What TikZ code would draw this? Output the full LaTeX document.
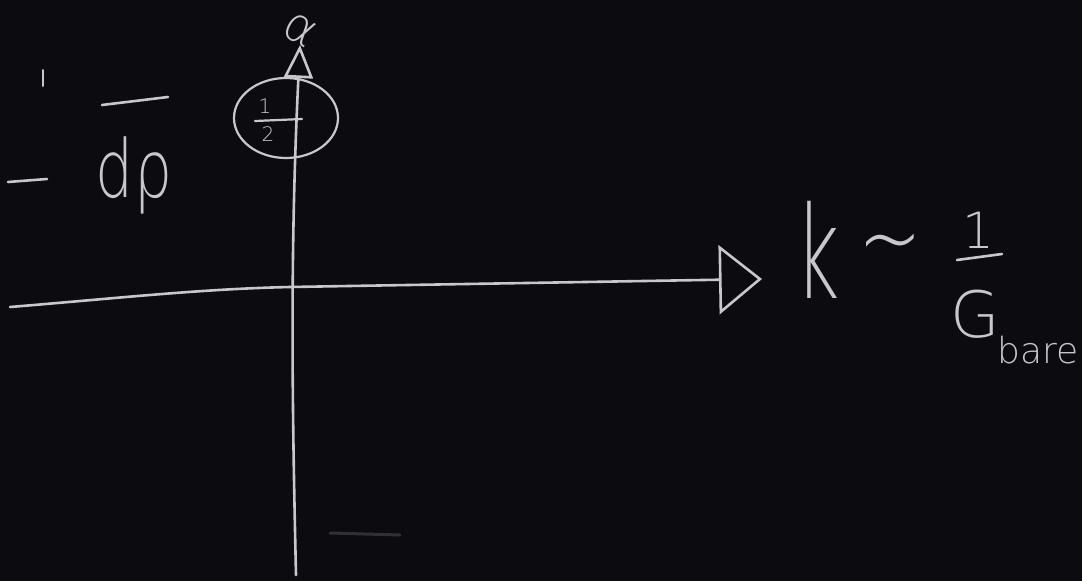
\documentclass[tikz,border=0pt]{standalone}
\usepackage{fontspec}
\newfontfamily\chalk{DejaVu Sans ExtraLight}
\usetikzlibrary{arrows.meta}
\definecolor{board}{RGB}{12,12,16}
\definecolor{chalkc}{RGB}{200,200,204}
\tikzset{
  chalkline/.style={draw=chalkc, line width=2.6pt, line cap=round, line join=round},
  chalktext/.style={text=chalkc, inner sep=0pt, font=\chalk},
}
\begin{document}
\begin{tikzpicture}[x=1pt,y=-1pt]
\fill[board] (0,0) rectangle (1082,581);
\useasboundingbox (0,0) rectangle (1082,581);
% axes
\coordinate (hstart) at (10,307);
\coordinate (hmid) at (290,287);
\coordinate (hend) at (762,279);
\draw[chalkline, -{Triangle[open, length=43pt, width=69pt, line width=2.6pt]}]
  (hstart) .. controls (120,298) and (200,289) .. (hmid) -- (hend);
\coordinate (vstart) at (296,575);
\coordinate (vend) at (300,45);
\draw[chalkline, -{Triangle[open, length=33pt, width=29pt, line width=2.6pt]}]
  (vstart) .. controls (292,400) and (290,250) .. (vend);
% alpha label at top
\node[chalktext, font=\chalk\fontsize{48}{48}\selectfont, rotate=-30] (alpha) at (300,30) {α};
% circled half
\draw[chalkline, line width=2.2pt] (286,118) ellipse (52 and 40);
\node[chalktext, font=\chalk\fontsize{20}{20}\selectfont] (one) at (265,106) {1};
\node[chalktext, font=\chalk\fontsize{20}{20}\selectfont] (two) at (268,134) {2};
\coordinate (hb1) at (255,121);
\coordinate (hb2) at (302,119);
\draw[chalkline, line width=2.2pt] (hb1) -- (hb2);
% left fragment
\coordinate (m1) at (8,182);
\coordinate (m2) at (47,179);
\draw[chalkline] (m1) -- (m2);
\coordinate (t1) at (43,70);
\coordinate (t2) at (43,86);
\draw[chalkline, line width=2pt] (t1) -- (t2);
\coordinate (b1) at (102,105);
\coordinate (b2) at (168,97);
\draw[chalkline] (b1) -- (b2);
\node[chalktext, font=\chalk\fontsize{80}{80}\selectfont, anchor=base, xscale=0.75] (drho) at (134,197) {dρ};
% right label
\node[chalktext, font=\chalk\fontsize{128}{128}\selectfont, anchor=base, xscale=0.6] (k) at (818,298) {k};
\node[chalktext, font=\chalk\fontsize{100}{100}\selectfont] (sim) at (890,255) {∼};
\node[chalktext, font=\chalk\fontsize{50}{50}\selectfont] (num) at (978,230) {1};
\coordinate (f1) at (957,260);
\coordinate (f2) at (1002,254);
\draw[chalkline] (f1) -- (f2);
\node[chalktext, font=\chalk\fontsize{64}{64}\selectfont, anchor=base] (G) at (975,337) {G};
\node[chalktext, font=\chalk\fontsize{36}{36}\selectfont, anchor=base] (bare) at (1038,363) {bare};
% faint smear
\coordinate (s1) at (330,533);
\coordinate (s2) at (400,535);
\draw[draw=chalkc, opacity=0.2, line width=3pt, line cap=round] (s1) -- (s2);
\end{tikzpicture}
\end{document}
